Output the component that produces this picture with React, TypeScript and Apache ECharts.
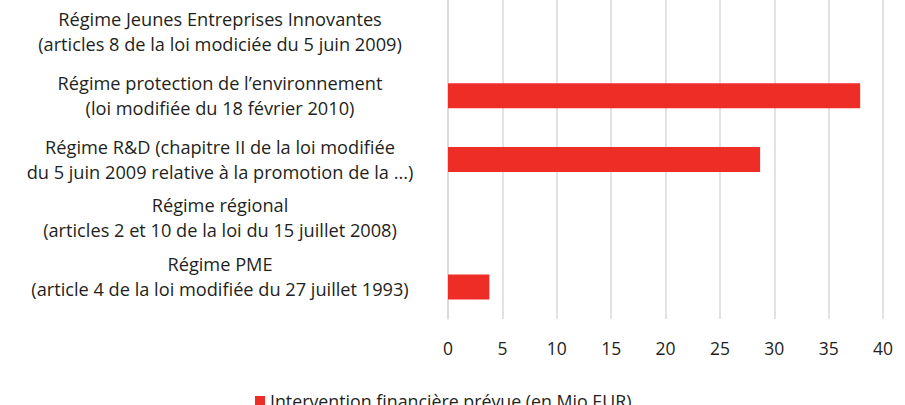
import React, { useEffect, useRef } from "react";
import * as echarts from "echarts";

const categories = [
  "Régime PME\n(article 4 de la loi modifiée du 27 juillet 1993)",
  "Régime régional\n(articles 2 et 10 de la loi du 15 juillet 2008)",
  "Régime R&D (chapitre II de la loi modifiée\ndu 5 juin 2009 relative à la promotion de la ...)",
  "Régime protection de l’environnement\n(loi modifiée du 18 février 2010)",
  "Régime Jeunes Entreprises Innovantes\n(articles 8 de la loi modiciée du 5 juin 2009)",
];
const values = [3.8, 0, 28.7, 37.9, 0];
const seriesName = "Intervention financière prévue (en Mio EUR)";

// extra blank space under some labels (px) so they sit where the reference puts them
const labelLift = [21, 11, 0, 0, 0];

const FONT = "'Open Sans', sans-serif";
const TEXT = "#231f20";

export default function App() {
  const ref = useRef<HTMLDivElement>(null);
  useEffect(() => {
    if (!ref.current) return;
    const chart = echarts.init(ref.current, null, { renderer: "svg" });
    const rich: Record<string, any> = {
      t: { fontFamily: FONT, fontSize: 18.2, color: TEXT, lineHeight: 25, align: "center" },
    };
    labelLift.forEach((h, i) => {
      if (h > 0) rich["g" + i] = { fontSize: 1, lineHeight: h };
    });
    chart.setOption({
      animation: false,
      textStyle: { fontFamily: FONT },
      grid: { left: 448, right: 22, top: -12, bottom: 86, containLabel: false },
      legend: {
        data: [seriesName],
        left: 250,
        top: 387,
        icon: "rect",
        itemWidth: 10,
        itemHeight: 10,
        itemGap: 6,
        textStyle: { fontFamily: FONT, fontSize: 17.8, color: TEXT },
      },
      xAxis: {
        type: "value",
        min: 0,
        max: 40,
        interval: 5,
        axisLine: { show: false },
        axisTick: { show: false },
        splitLine: { show: true, lineStyle: { color: "#d9d9d9", width: 1.5 } },
        axisLabel: { fontFamily: FONT, fontSize: 17.5, color: TEXT, margin: 20 },
      },
      yAxis: {
        type: "category",
        data: categories,
        axisLine: { show: true, lineStyle: { color: "#d9d9d9", width: 1.5 } },
        axisTick: { show: false },
        axisLabel: {
          interval: 0,
          hideOverlap: false,
          fontFamily: FONT,
          fontSize: 18.2,
          color: TEXT,
          align: "center",
          margin: 228,
          lineHeight: 25,
          formatter: (val: string, idx: number) => {
            const body = val.split("\n").map((l) => `{t|${l}}`).join("\n");
            return labelLift[idx] > 0 ? `${body}\n{g${idx}| }` : body;
          },
          rich,
        },
      },
      series: [
        {
          name: seriesName,
          type: "bar",
          data: values,
          barWidth: 25,
          itemStyle: { color: "#ee2d27" },
        },
      ],
    });
    return () => chart.dispose();
  }, []);
  return <div ref={ref} style={{ width: 905, height: 405, position: "absolute", left: 0, top: 0 }} />;
}
